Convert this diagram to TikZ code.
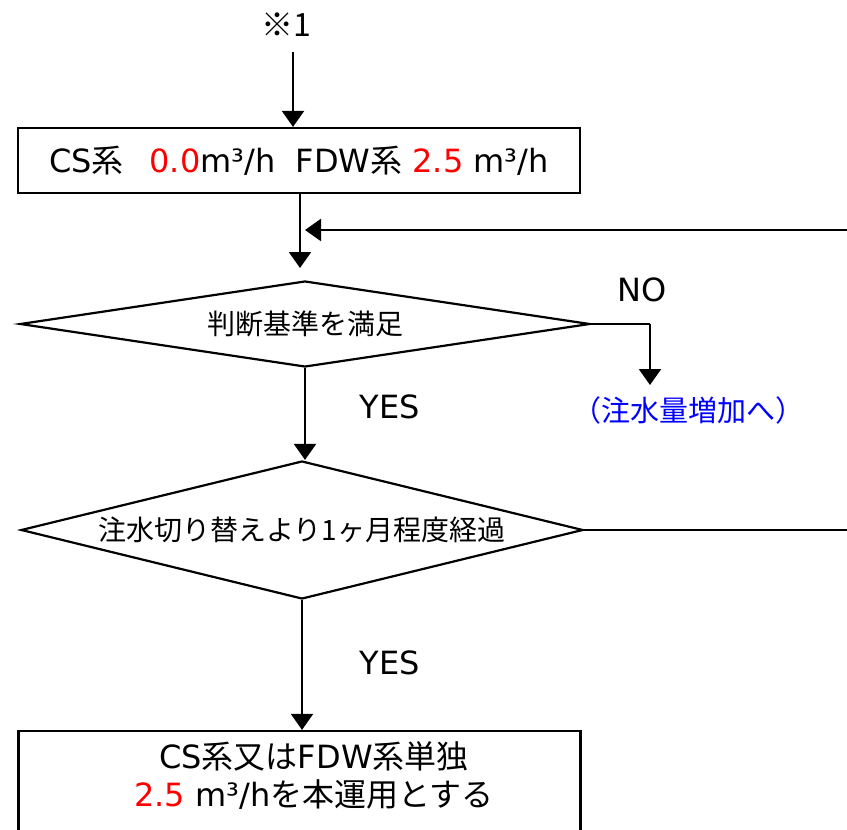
\documentclass[tikz,border=0pt]{standalone}
\usepackage{fontspec}
\setmainfont{DejaVu Sans}
\newfontfamily\jp{Noto Sans CJK JP}
\usetikzlibrary{shapes.geometric,arrows.meta}
\begin{document}
\begin{tikzpicture}[x=1pt,y=-1pt,line width=2.2pt,
  arr/.style={-{Triangle[width=22pt,length=16pt]}},
  box/.style={draw,rectangle,minimum width=562pt,inner sep=0pt},
  dia/.style={draw,diamond,inner sep=0pt},
  lat/.style={font=\fontsize{32}{38}\selectfont},
  jpt/.style={font=\fontsize{28}{34}\selectfont\jp}]
\path[clip] (0,0) rectangle (847,830);
% nodes
\node[lat] (s1) at (286,25) {\jp ※1};
\node[box,minimum height=65pt,lat] (b1) at (299,160.5)
  {CS{\jp 系}\hspace{0.8em}\textcolor{red}{0.0}m³/h\ \ FDW{\jp 系} \textcolor{red}{2.5} m³/h};
\node[dia,aspect=6.63,minimum width=570pt,minimum height=86pt,jpt] (d1) at (305,324) {判断基準を満足};
\node[dia,aspect=4.07,minimum width=562pt,minimum height=138pt,jpt] (d2) at (302,530) {注水切り替えより1ヶ月程度経過};
\node[box,minimum height=140pt] (b2) at (299.5,801) {};
\node[lat,align=center] (b2t) at (314,776)
  {CS{\jp 系又は}FDW{\jp 系単独}\\\textcolor{red}{2.5} m³/h{\jp を本運用とする}};
\node[lat] (no) at (642,290) {NO};
\node[lat] (y1) at (390,407) {YES};
\node[lat] (y2) at (390,663) {YES};
\node[jpt,text=blue,font=\fontsize{29}{34}\selectfont\jp] (inc) at (688,410) {（注水量増加へ）};
% coordinates
\coordinate (a0) at (293,52);
\coordinate (t1) at (300,268);
\coordinate (loop) at (870,230);
\coordinate (fbend) at (305,230);
\coordinate (nk) at (650,324);
\coordinate (nt) at (650,385);
% connectors
\draw[arr] (a0) -- (a0 |- b1.north);
\draw[arr] (b1.south -| t1) -- (t1);
\draw[arr] (d2.east) -| (loop) -- (fbend);
\draw[arr] (d1.south) -- (d1.south |- d2.north);
\draw (d1.east) -- (nk);
\draw[arr] (nk) -- (nt);
\draw[arr] (d2.south) -- (d2.south |- b2.north);
\end{tikzpicture}
\end{document}
